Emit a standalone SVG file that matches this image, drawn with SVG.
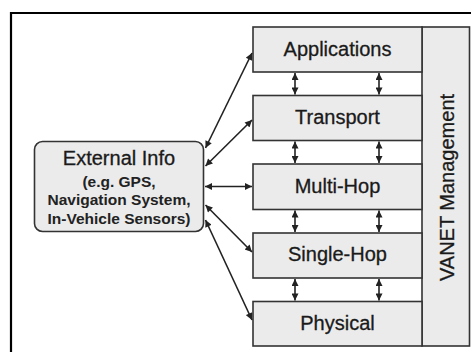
<svg xmlns="http://www.w3.org/2000/svg" width="471" height="352" viewBox="0 0 471 352">
<style>
.box{fill:#ebebeb;stroke:#333;stroke-width:1.6}
.t{font-family:"Liberation Sans",Arial,sans-serif;font-size:20px;fill:#1a1a1a;stroke:#1a1a1a;stroke-width:0.3;text-anchor:middle}
.s{font-family:"Liberation Sans",Arial,sans-serif;font-size:15.5px;font-weight:bold;fill:#222;text-anchor:middle}
.c{stroke:#222;stroke-width:1.6;fill:none;marker-start:url(#ah);marker-end:url(#ah)}
.v{stroke:#222;stroke-width:1.6;fill:none;marker-start:url(#av);marker-end:url(#av)}
</style>
<defs>
<marker id="ah" viewBox="0 0 10 10" refX="10" refY="5" markerUnits="userSpaceOnUse" markerWidth="9" markerHeight="7" orient="auto-start-reverse">
<path d="M0,0 L10,5 L0,10 z" fill="#222"/>
</marker>
<marker id="av" viewBox="0 0 10 10" refX="10" refY="5" markerUnits="userSpaceOnUse" markerWidth="9" markerHeight="7" orient="auto-start-reverse">
<path d="M0,0 L10,5 L0,10 z" fill="#222"/>
</marker>
</defs>
<rect width="471" height="352" fill="#fff"/>
<path d="M11,352 V13 H471" fill="none" stroke="#000" stroke-width="2.2"/>
<g id="mgmt">
<rect class="box" x="422" y="27" width="47.5" height="319"/>
<text class="t" transform="translate(453.5,187.5) rotate(-90)">VANET Management</text>
</g>
<g id="applications">
<rect class="box" x="253" y="27" width="169" height="45"/>
<text class="t" x="337.5" y="55.5">Applications</text>
</g>
<g id="transport">
<rect class="box" x="253" y="95.5" width="169" height="45"/>
<text class="t" x="337.5" y="124">Transport</text>
</g>
<g id="multihop">
<rect class="box" x="253" y="164" width="169" height="45.5"/>
<text class="t" x="337.5" y="192.5">Multi-Hop</text>
</g>
<g id="singlehop">
<rect class="box" x="253" y="233" width="169" height="45"/>
<text class="t" x="337.5" y="261">Single-Hop</text>
</g>
<g id="physical">
<rect class="box" x="253" y="301.5" width="169" height="44.5"/>
<text class="t" x="337.5" y="330">Physical</text>
</g>
<g id="external">
<rect class="box" x="34.5" y="141.5" width="169" height="90" rx="8" ry="8"/>
<text class="t" x="119" y="165">External Info</text>
<text class="s" x="119" y="186.5">(e.g. GPS,</text>
<text class="s" x="119" y="205">Navigation System,</text>
<text class="s" x="119" y="224">In-Vehicle Sensors)</text>
</g>
<g id="connectors">
<path class="c" d="M205.5,148 L252,53"/>
<path class="c" d="M205.5,166 L252,120"/>
<path class="c" d="M205,186.5 L252,186.5"/>
<path class="c" d="M205.5,205 L252,252"/>
<path class="c" d="M205.5,220 L252,320"/>
<path class="v" d="M295,73 V94.5"/>
<path class="v" d="M379,73 V94.5"/>
<path class="v" d="M295,141.5 V163"/>
<path class="v" d="M379,141.5 V163"/>
<path class="v" d="M295,210.5 V232"/>
<path class="v" d="M379,210.5 V232"/>
<path class="v" d="M295,279 V300.5"/>
<path class="v" d="M379,279 V300.5"/>
</g>
</svg>
